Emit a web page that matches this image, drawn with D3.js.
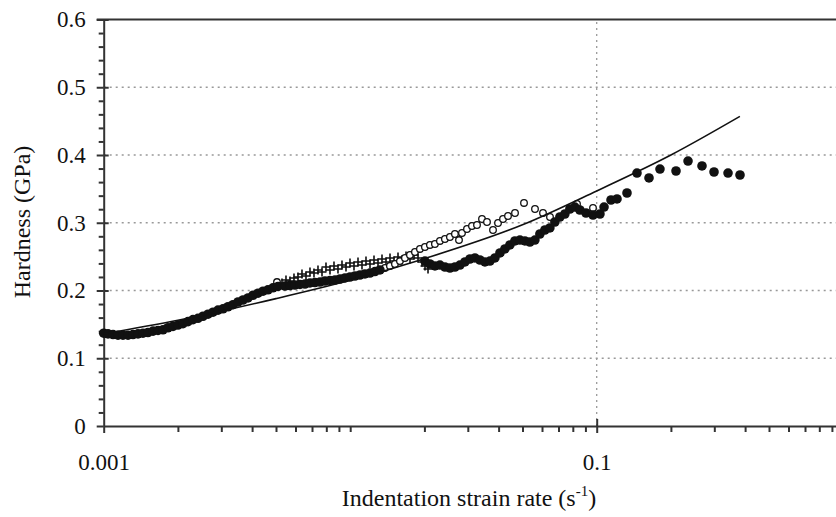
<!DOCTYPE html>
<html>
<head>
<meta charset="utf-8">
<script src="https://cdn.jsdelivr.net/npm/d3@7"></script>
<style>
  body { margin: 0; background: #fff; }
</style>
</head>
<body>
<div id="svg"></div>
<script>
const serif = "'Liberation Serif', 'Times New Roman', Tinos, 'Nimbus Roman', 'DejaVu Serif', 'Noto Serif', serif"

// strain rate (1/s) and hardness (GPa)
const filledRate = [0.001000,0.001041,0.001091,0.001143,0.001197,0.001255,0.001315,0.001378,0.001443,0.001512,0.001585,0.001661,0.001740,0.001823,0.001910,0.002002,0.002097,0.002198,0.002303,0.002413,0.002528,0.002649,0.002776,0.002909,0.003048,0.003193,0.003346,0.003506,0.003674,0.003849,0.004034,0.004227,0.004429,0.004640,0.004862,0.005095,
  0.005438,0.005698,0.005970,0.006256,0.006555,0.006868,0.007196,0.007540,0.007901,0.008278,0.008674,0.009089,0.009523,0.009978,0.010455,0.010955,0.011478,0.012027,0.012602,0.013204,
  0.02010,0.02106,0.02207,0.02312,0.02423,0.02539,0.02660,0.02787,0.02920,0.03060,0.03206,0.03359,0.03520,0.03688,0.03864,0.04049,0.04242,0.04445,0.04657,0.04880,0.05113,0.05357,0.05613,0.05881,0.06163,0.06457,0.06766,0.07089,0.07428,0.07783,0.08154,0.08544,
  0.09049,0.0966,0.1031,0.1071,0.1143,0.1209,0.1327,0.1457,0.1630,0.1806,0.2098,0.2347,0.2674,0.2992,0.3410,0.3814]
const filledH = [0.137,0.136,0.135,0.134,0.134,0.134,0.135,0.136,0.137,0.138,0.140,0.141,0.142,0.145,0.147,0.149,0.151,0.154,0.157,0.159,0.162,0.165,0.168,0.171,0.173,0.176,0.179,0.183,0.186,0.189,0.193,0.196,0.199,0.201,0.204,0.206,
  0.2066,0.2074,0.2081,0.2089,0.2096,0.2111,0.2118,0.2125,0.2140,0.2148,0.2155,0.2170,0.2185,0.2199,0.2214,0.2229,0.2244,0.2258,0.2280,0.2303,
  0.2435,0.2391,0.2362,0.2376,0.2347,0.2332,0.2347,0.2376,0.2421,0.2465,0.2480,0.2450,0.2421,0.2435,0.2480,0.2554,0.2613,0.2672,0.2731,0.2745,0.2731,0.2716,0.2745,0.2834,0.2893,0.2923,0.3011,0.3085,0.3129,0.3203,0.3232,0.3188,
  0.3144,0.3114,0.3129,0.3232,0.3336,0.3351,0.3439,0.3734,0.3661,0.3793,0.3764,0.3911,0.3838,0.3749,0.3734,0.3705]

const openRate = [0.005047,
  0.012602,0.013204,0.013835,0.014496,0.015189,0.015915,0.016676,0.017473,0.018308,0.019183,0.020100,0.021060,0.022067,0.023122,0.024227,0.025385,0.026598,
  0.02763,0.02841,0.02977,0.03119,0.03269,0.03425,0.03589,0.03796,0.03978,0.04168,0.04367,0.04662,0.05071,0.05619,0.06055,0.06464,0.0832,0.0966]
const openH = [0.2125,
  0.2280,0.2303,0.2332,0.2362,0.2391,0.2435,0.2480,0.2524,0.2568,0.2613,0.2642,0.2672,0.2686,0.2731,0.2760,0.2790,0.2834,
  0.2745,0.2849,0.2908,0.2952,0.2967,0.3055,0.3011,0.2893,0.2996,0.3055,0.3100,0.3144,0.3292,0.3203,0.3144,0.3085,0.3277,0.3218]

const crossRate = [0.005288,0.005489,0.005698,0.005915,0.006140,0.006374,0.006617,0.006869,0.007130,0.007402,0.007684,0.007976,0.008280,0.008595,0.008922,0.009262,0.009615,0.009981,0.010361,0.010756,0.011165,0.011590,0.012032,0.012490,0.012966,0.013459,0.013972,0.014504,0.015056,0.015630,0.016225,0.016843,0.017484,0.018150,0.018841,0.019558,0.020114,0.020686]
const crossH = [0.2111,0.2155,0.2140,0.2185,0.2199,0.2244,0.2214,0.2273,0.2258,0.2303,0.2273,0.2347,0.2303,0.2362,0.2317,0.2376,0.2347,0.2406,0.2362,0.2421,0.2376,0.2435,0.2391,0.2450,0.2406,0.2465,0.2421,0.2480,0.2435,0.2494,0.2450,0.2509,0.2465,0.2524,0.2480,0.2421,0.2362,0.2317]

// fitted curve
const fitRate = [0.001,0.002,0.005,0.01,0.02,0.05,0.1,0.2,0.381]
const fitH = [0.136,0.156,0.188,0.215,0.247,0.297,0.347,0.400,0.457]

const yMajor = [0,0.1,0.2,0.3,0.4,0.5,0.6]
const yGrid = [0.1,0.2,0.3,0.4,0.5]
const xLabelled = [0.001,0.1]
const xGrid = [0.1]

const width = 836, height = 517

const x = d3.scaleLog().domain([0.001, 1]).range([103.7, 843.2])
const y = d3.scaleLinear().domain([0, 0.6]).range([426, 19.5])

const svg = d3.select('#svg')
    .append('svg')
    .attr('width', width)
    .attr('height', height)
    .attr('font-family', serif)

// grid
svg.append('g')
    .selectAll('line')
    .data(yGrid)
    .enter()
    .append('line')
    .attr('x1', x(0.001)).attr('x2', x(1))
    .attr('y1', d => y(d)).attr('y2', d => y(d))
    .attr('stroke', '#999').attr('stroke-width', 1.3)
    .attr('stroke-dasharray', '2,4')

svg.append('g')
    .selectAll('line')
    .data(xGrid)
    .enter()
    .append('line')
    .attr('x1', d => x(d)).attr('x2', d => x(d))
    .attr('y1', y(0)).attr('y2', y(0.6))
    .attr('stroke', '#999').attr('stroke-width', 1.3)
    .attr('stroke-dasharray', '2,4')

// top border
svg.append('line')
    .attr('x1', x(0.001) - 7).attr('x2', x(1))
    .attr('y1', y(0.6)).attr('y2', y(0.6))
    .attr('stroke', '#333').attr('stroke-width', 2)

// y axis
const yMinor = d3.range(0, 0.601, 0.02).filter(v => Math.abs(v * 10 - Math.round(v * 10)) > 1e-6)

svg.append('g')
    .attr('transform', 'translate(' + x(0.001) + ',0)')
    .call(d3.axisLeft(y).tickValues(yMinor).tickSize(5).tickFormat(''))
svg.append('g')
    .attr('transform', 'translate(' + x(0.001) + ',0)')
    .call(d3.axisRight(y).tickValues(yMajor.slice(1)).tickSize(5).tickSizeOuter(0).tickFormat(''))
const yAxis = svg.append('g')
    .attr('transform', 'translate(' + x(0.001) + ',0)')
    .call(d3.axisLeft(y).tickValues(yMajor).tickSize(7).tickSizeOuter(0).tickPadding(11)
        .tickFormat(d => d === 0 ? '0' : d3.format('.1f')(d)))

// x axis
const xMinor = [0.001, 0.01, 0.1].flatMap(d => d3.range(2, 11).map(k => +(k * d).toPrecision(3)))
    .filter(v => v !== 0.1 && v !== 1)

svg.append('g')
    .attr('transform', 'translate(0,' + y(0) + ')')
    .call(d3.axisBottom(x).tickValues(xMinor).tickSize(6).tickFormat(''))
svg.append('g')
    .attr('transform', 'translate(0,' + y(0) + ')')
    .call(d3.axisTop(x).tickValues([0.1]).tickSize(7).tickSizeOuter(0).tickFormat(''))
const xAxis = svg.append('g')
    .attr('transform', 'translate(0,' + y(0) + ')')
    .call(d3.axisBottom(x).tickValues(xLabelled).tickSize(7).tickSizeOuter(0).tickFormat(d3.format('')))
xAxis.selectAll('text').attr('y', 44).attr('dy', 0)

svg.selectAll('.tick text').attr('font-size', '23px').attr('fill', '#111')
svg.selectAll('g').attr('font-family', serif)
svg.selectAll('.domain').attr('stroke', '#333').attr('stroke-width', 2)
svg.selectAll('.tick line').attr('stroke', '#333').attr('stroke-width', 2)
svg.selectAll('.domain').filter(function () { return this.parentNode !== xAxis.node() && this.parentNode !== yAxis.node() }).remove()

// markers
const plot = svg.append('g')

plot.append('g')
    .selectAll('path')
    .data(d3.zip(crossRate, crossH))
    .enter()
    .append('path')
    .attr('transform', d => 'translate(' + x(d[0]) + ',' + y(d[1]) + ')')
    .attr('d', 'M-4.5,0H4.5M0,-4.5V4.5')
    .attr('stroke', '#111').attr('stroke-width', 1.6)

plot.append('g')
    .selectAll('circle')
    .data(d3.zip(openRate, openH))
    .enter()
    .append('circle')
    .attr('cx', d => x(d[0])).attr('cy', d => y(d[1]))
    .attr('r', 3.3)
    .attr('fill', '#fff').attr('stroke', '#111').attr('stroke-width', 1.3)

plot.append('g')
    .selectAll('circle')
    .data(d3.zip(filledRate, filledH))
    .enter()
    .append('circle')
    .attr('cx', d => x(d[0])).attr('cy', d => y(d[1]))
    .attr('r', 4.8)
    .attr('fill', '#111')

// fit
const fitLine = d3.line().x(d => x(d[0])).y(d => y(d[1])).curve(d3.curveMonotoneX)
plot.append('path')
    .datum(d3.zip(fitRate, fitH))
    .attr('d', fitLine)
    .attr('fill', 'none').attr('stroke', '#111').attr('stroke-width', 1.6)

// titles
svg.append('text')
    .attr('transform', 'translate(30,222) rotate(-90)')
    .attr('text-anchor', 'middle')
    .attr('font-size', '24px')
    .attr('fill', '#111')
    .text('Hardness (GPa)')

const xt = svg.append('text')
    .attr('x', 469).attr('y', 506)
    .attr('text-anchor', 'middle')
    .attr('font-size', '24px')
    .attr('fill', '#111')
xt.append('tspan').text('Indentation strain rate (s')
xt.append('tspan').attr('font-size', '15px').attr('dy', -10).text('-1')
xt.append('tspan').attr('dy', 10).text(')')
</script>
</body>
</html>
